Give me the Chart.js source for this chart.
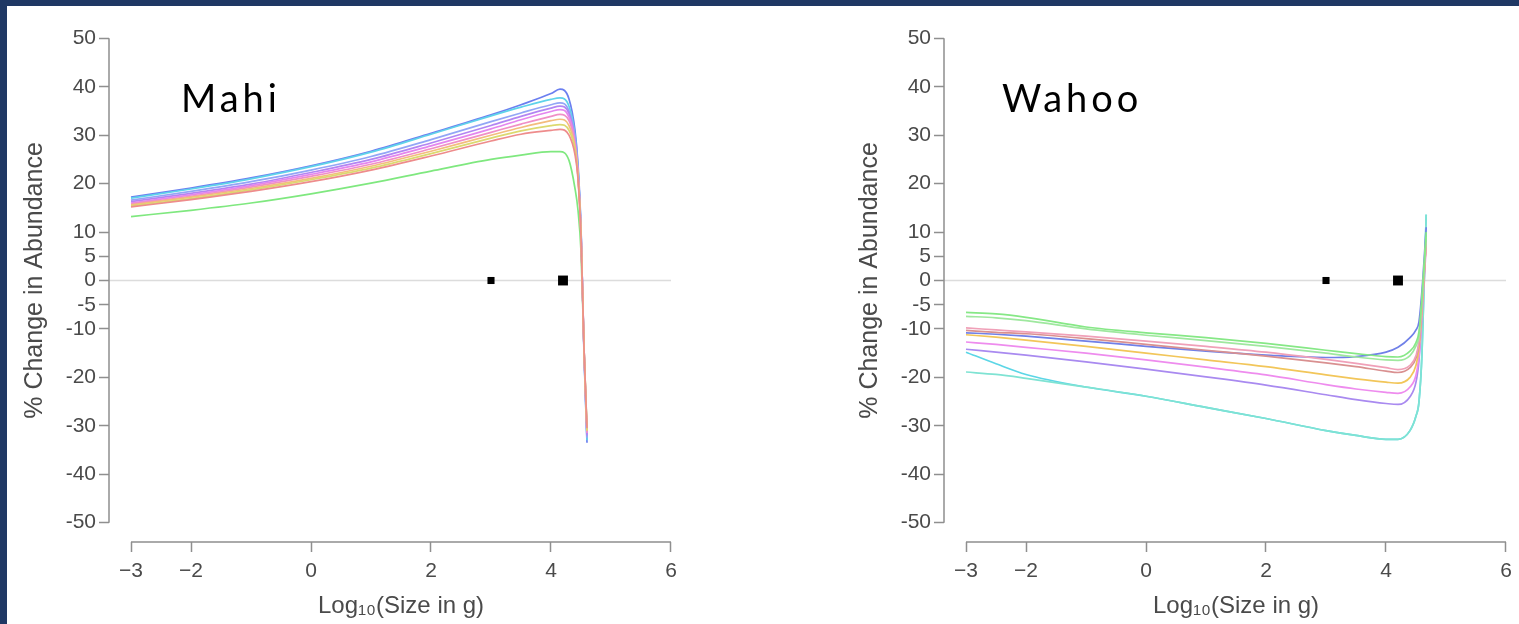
<!DOCTYPE html>
<html>
<head>
<meta charset="utf-8">
<script src="https://cdn.jsdelivr.net/npm/chart.js@4.4.1/dist/chart.umd.min.js"></script>
<style>
  html, body { margin: 0; padding: 0; background: #fff; width: 1519px; height: 624px; overflow: hidden; }
  .frame-top { position: absolute; left: 0; top: 0; width: 1519px; height: 6px; background: #1f3864; z-index: 5; }
  .frame-left { position: absolute; left: 0; top: 0; width: 7px; height: 624px; background: #1f3864; z-index: 5; }
  .panel { position: absolute; top: 0; }
  .species { position: absolute; top: 74px; font-family: Lato, 'Open Sans', sans-serif; font-size: 38px; letter-spacing: 4px; color: #000; z-index: 4; }
</style>
</head>
<body>
<div class="frame-top"></div>
<div class="frame-left"></div>
<canvas id="mahi" class="panel" style="left:0" width="700" height="624"></canvas>
<canvas id="wahoo" class="panel" style="left:835px" width="700" height="624"></canvas>
<div class="species" style="left:181px">Mahi</div>
<div class="species" style="left:1002px">Wahoo</div>
<script>
/* ejes y marcas */
const X_TICKS = [-3, -2, 0, 2, 4, 6];
const Y_TICKS = [50, 40, 30, 20, 10, 5, 0, -5, -10, -20, -30, -40, -50];
const ZERO_X = [-3.37, 6];
const DOT_X = [3, 4.2];
const DOT_Y = [0, 0];

/* Mahi: % cambio por tamaño */
const MAHI_X = [-3, -2, -1, 0, 1, 2, 3, 3.5, 4, 4.15, 4.3, 4.4, 4.45, 4.5, 4.55, 4.6];
const mahiBlue    = [17.2, 19.1, 21.2, 23.7, 26.7, 30.4, 34.2, 36.3, 38.6, 39.5, 37.5, 31.0, 24.0, 11.0, -15.0, -33.5];
const mahiCyan    = [17.0, 18.9, 21.0, 23.5, 26.5, 30.2, 34.0, 35.8, 37.4, 37.7, 36.0, 30.0, 23.0, 10.5, -14.5, -33.0];
const mahiSky     = [16.6, 18.4, 20.4, 22.8, 25.6, 29.1, 32.8, 34.6, 36.3, 36.7, 35.0, 29.5, 23.0, 10.5, -14.5, -32.5];
const mahiPurple  = [16.3, 18.0, 19.9, 22.3, 25.0, 28.4, 32.0, 33.9, 35.6, 36.0, 34.5, 29.0, 22.5, 10.0, -14.0, -32.0];
const mahiMagenta = [16.0, 17.7, 19.6, 21.9, 24.5, 27.8, 31.3, 33.2, 34.9, 35.3, 33.8, 28.5, 22.0, 10.0, -14.0, -31.5];
const mahiPink    = [15.8, 17.4, 19.3, 21.5, 24.0, 27.2, 30.6, 32.3, 33.9, 34.3, 33.0, 28.0, 22.0, 10.0, -14.0, -31.5];
const mahiOrange  = [15.6, 17.2, 19.0, 21.1, 23.6, 26.7, 30.0, 31.6, 33.0, 33.3, 32.0, 27.5, 21.5, 9.5, -14.0, -31.0];
const mahiYellow  = [15.4, 16.9, 18.7, 20.8, 23.2, 26.2, 29.4, 30.9, 32.0, 32.2, 31.0, 27.0, 21.5, 9.5, -14.0, -31.0];
const mahiRed     = [15.2, 16.7, 18.4, 20.4, 22.8, 25.7, 28.8, 30.2, 31.0, 31.2, 30.0, 26.0, 21.0, 9.0, -14.0, -30.5];
const mahiGreen   = [13.2, 14.5, 16.0, 17.9, 20.1, 22.6, 25.0, 25.9, 26.6, 26.6, 24.8, 19.0, 14.5, 6.0, -14.0, -30.5];

/* Wahoo */
const WAHOO_X = [-3, -2.5, -2, -1, 0, 1, 2, 3, 3.5, 4, 4.2, 4.4, 4.5, 4.55, 4.6, 4.67];
const wahooGreenA  = [-6.6, -6.9, -7.6, -9.6, -10.8, -11.8, -13.0, -14.4, -15.1, -15.7, -15.8, -14.6, -12.8, -10.5, -3.5, 10.0];
const wahooGreenB  = [-7.4, -7.7, -8.3, -10.0, -11.3, -12.4, -13.6, -15.0, -15.8, -16.4, -16.5, -15.5, -13.5, -11.5, -4.0, 9.0];
const wahooPink    = [-9.8, -10.2, -10.6, -11.5, -12.5, -13.6, -14.8, -16.3, -17.1, -18.0, -18.4, -17.5, -15.5, -12.5, -5.0, 8.0];
const wahooRed     = [-10.3, -10.7, -11.0, -12.0, -13.2, -14.4, -15.6, -17.0, -17.8, -18.7, -19.0, -18.0, -16.0, -13.0, -5.0, 8.0];
const wahooBlue    = [-10.8, -11.1, -11.5, -12.5, -13.6, -14.6, -15.4, -15.9, -15.7, -14.8, -13.8, -11.8, -10.2, -8.5, -2.0, 11.0];
const wahooYellow  = [-11.2, -11.7, -12.3, -13.6, -15.0, -16.4, -17.8, -19.5, -20.3, -21.0, -21.2, -20.0, -17.5, -14.0, -6.0, 8.0];
const wahooMagenta = [-12.7, -13.2, -13.8, -15.0, -16.4, -17.9, -19.5, -21.5, -22.4, -23.1, -23.3, -22.0, -19.5, -15.5, -7.0, 7.0];
const wahooPurple  = [-14.2, -14.8, -15.4, -16.8, -18.3, -19.9, -21.6, -23.6, -24.6, -25.4, -25.6, -24.0, -21.0, -16.5, -7.0, 9.0];
const wahooCyan    = [-14.8, -17.2, -19.4, -22.0, -23.9, -26.2, -28.5, -31.0, -32.0, -32.8, -32.8, -31.0, -28.0, -25.0, -15.0, 13.6];
const wahooTeal    = [-18.9, -19.4, -20.2, -22.0, -23.9, -26.2, -28.5, -31.0, -32.0, -32.8, -32.8, -31.0, -28.0, -25.0, -15.0, 13.6];

const AXIS_COLOR = '#8f8f8f';
const TEXT_COLOR = '#4a4a4a';
const FONT = "'Liberation Sans', Arial, sans-serif";

// ejes estilo R: solo del primer al último tick
const rAxes = {
  id: 'rAxes',
  afterDraw(chart) {
    const { ctx, chartArea, scales: { x, y } } = chart;
    ctx.save();
    ctx.strokeStyle = AXIS_COLOR;
    ctx.lineWidth = 1.5;
    ctx.beginPath();
    ctx.moveTo(chartArea.left, y.getPixelForValue(Y_TICKS[0]));
    ctx.lineTo(chartArea.left, y.getPixelForValue(Y_TICKS[Y_TICKS.length - 1]));
    ctx.moveTo(x.getPixelForValue(X_TICKS[0]), chartArea.bottom);
    ctx.lineTo(x.getPixelForValue(X_TICKS[X_TICKS.length - 1]), chartArea.bottom);
    ctx.stroke();
    ctx.restore();
  },
};

function pts(xs, ys) {
  return xs.map((x, i) => ({ x, y: ys[i] }));
}

function drawPanel(canvasId, xs, series) {
  const el = document.getElementById(canvasId);
  const datasets = series.map(s => ({
    type: 'line', data: pts(xs, s.data), borderColor: s.color, borderWidth: 1.7,
    pointRadius: 0, cubicInterpolationMode: 'monotone', fill: false, order: 1,
  }));
  datasets.push({
    type: 'line', data: pts(ZERO_X, [0, 0]), borderColor: '#dcdcdc', borderWidth: 1.5,
    pointRadius: 0, fill: false, order: 2,
  });
  datasets.push({
    type: 'scatter', data: pts(DOT_X, DOT_Y), backgroundColor: '#000', borderColor: '#000',
    pointStyle: 'rect', pointRadius: [5, 7], borderWidth: 0, order: 0,
  });
  return new Chart(el, {
    type: 'line',
    data: { datasets },
    options: {
      responsive: false, animation: false, devicePixelRatio: 1,
      layout: { padding: { top: 19, right: 7, left: 0, bottom: 0 } },
      plugins: { legend: { display: false }, tooltip: { enabled: false } },
      scales: {
        x: {
          type: 'linear', min: -3.3667, max: 6.3667,
          afterBuildTicks: s => { s.ticks = X_TICKS.map(v => ({ value: v })); },
          afterFit: s => { s.height = 82; },
          grid: { drawOnChartArea: false, drawTicks: true, tickLength: 10, tickColor: AXIS_COLOR, tickWidth: 1.5 },
          border: { display: false },
          ticks: {
            color: TEXT_COLOR, font: { family: FONT, size: 21 }, padding: 7, maxRotation: 0, autoSkip: false,
            callback: v => v < 0 ? '\u2212' + Math.abs(v) : String(v),
          },
          title: {
            display: true, text: 'Log\u2081\u2080(Size in g)', color: TEXT_COLOR,
            font: { family: FONT, size: 24 }, padding: { top: 0, bottom: 3 },
          },
        },
        y: {
          type: 'linear', min: -54, max: 54,
          afterBuildTicks: s => { s.ticks = Y_TICKS.map(v => ({ value: v })); },
          afterFit: s => { s.width = 109; },
          grid: { drawOnChartArea: false, drawTicks: true, tickLength: 10, tickColor: AXIS_COLOR, tickWidth: 1.5 },
          border: { display: false },
          ticks: { color: TEXT_COLOR, font: { family: FONT, size: 21 }, padding: 3, autoSkip: false },
          title: {
            display: true, text: '% Change in Abundance', color: TEXT_COLOR,
            font: { family: FONT, size: 25 }, padding: { top: 20, bottom: 0 },
          },
        },
      },
    },
    plugins: [rAxes],
  });
}

drawPanel('mahi', MAHI_X, [
  { data: mahiRed, color: '#ee8c8c' },
  { data: mahiYellow, color: '#dcd96f' },
  { data: mahiOrange, color: '#f3bd7d' },
  { data: mahiPink, color: '#f08fc6' },
  { data: mahiMagenta, color: '#e486ee' },
  { data: mahiPurple, color: '#b385f2' },
  { data: mahiSky, color: '#93a6f6' },
  { data: mahiCyan, color: '#5fd3ea' },
  { data: mahiBlue, color: '#6b7ff0' },
  { data: mahiGreen, color: '#7fe87f' },
]);

drawPanel('wahoo', WAHOO_X, [
  { data: wahooGreenA, color: '#86e886' },
  { data: wahooGreenB, color: '#9fe89f' },
  { data: wahooPink, color: '#f0a0b8' },
  { data: wahooRed, color: '#d99090' },
  { data: wahooYellow, color: '#f2c65a' },
  { data: wahooMagenta, color: '#ee8cee' },
  { data: wahooPurple, color: '#a98af0' },
  { data: wahooBlue, color: '#7080e8' },
  { data: wahooTeal, color: '#7fe3d3' },
  { data: wahooCyan, color: '#5cd6e6' },
]);
</script>
</body>
</html>
